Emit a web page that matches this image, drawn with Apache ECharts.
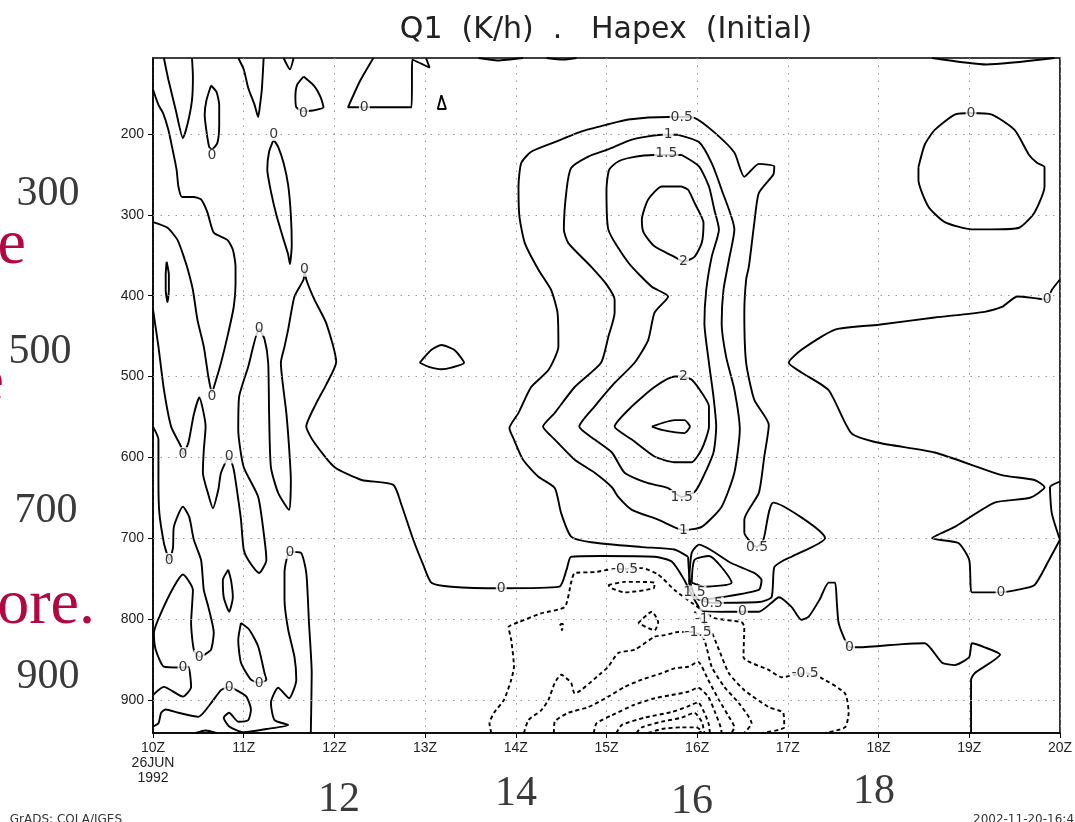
<!DOCTYPE html>
<html>
<head>
<meta charset="utf-8">
<script src="https://cdn.jsdelivr.net/npm/echarts@6/dist/echarts.min.js"></script>
<style>html,body{margin:0;padding:0;background:#fff;}#chart{width:1075px;height:822px;}</style>
</head>
<body>
<div id="chart"></div>
<script>
// ---- axes ----
const hourTicks = [10,11,12,13,14,15,16,17,18,19,20];
const pressureTicks = [200,300,400,500,600,700,800,900];
const pressureMin = 106, pressureMax = 941;

// ---- contour lines: [hour, hPa] ----
const c0TopLeftV = [[10.12,106],[10.17,133],[10.25,170],[10.33,205],[10.38,188],[10.43,158],[10.44,129],[10.43,106]];
const c0LeftUpper = [[10.00,145],[10.06,164],[10.11,174],[10.17,195],[10.21,216],[10.26,244],[10.28,265],[10.32,278],[10.45,278],[10.53,281],[10.60,297],[10.67,322],[10.82,331],[10.88,343],[10.91,364],[10.91,386],[10.89,414],[10.82,451],[10.75,483],[10.68,510],[10.65,520],[10.61,500],[10.56,463],[10.49,430],[10.44,393],[10.39,370],[10.34,352],[10.27,331],[10.16,316],[10.00,309]];
const c0ThinLoop = [[10.15,358],[10.14,374],[10.14,393],[10.16,408],[10.175,393],[10.175,374],[10.15,358]];
const c0Lens1 = [[10.64,140],[10.59,158],[10.57,176],[10.59,197],[10.62,216],[10.65,219],[10.71,211],[10.73,188],[10.73,164],[10.70,148],[10.64,140]];
const c0TopV2 = [[10.94,106],[11.00,120],[11.05,143],[11.12,164],[11.16,179],[11.18,164],[11.20,145],[11.22,106]];
const c0TopV3 = [[11.44,106],[11.51,120],[11.55,106]];
const c0Tri = [[11.66,129],[11.59,139],[11.57,154],[11.58,167],[11.66,172],[11.76,171],[11.88,167],[11.85,155],[11.78,141],[11.66,129]];
const c0Lens2 = [[11.33,207],[11.28,222],[11.26,244],[11.30,271],[11.36,300],[11.43,327],[11.49,349],[11.51,361],[11.53,337],[11.52,300],[11.49,263],[11.44,236],[11.38,216],[11.33,207]];
const c0Top12 = [[12.43,106],[12.28,135],[12.15,167],[12.52,167],[12.85,167],[12.86,108],[13.05,118],[13.01,106]];
const c0SmallTri = [[13.18,152],[13.14,169],[13.23,169],[13.18,152]];
const c0EdgeA = [[13.59,106],[13.80,109],[14.08,106]];
const c0EdgeB = [[14.34,106],[14.52,108],[14.67,106]];
const c0EdgeC = [[18.59,106],[19.19,114],[19.94,106]];
const c0Oval13 = [[12.94,483],[13.07,467],[13.18,461],[13.32,467],[13.43,483],[13.29,489],[13.18,491],[13.04,488],[12.94,483]];
const c0Main = [[10.00,417],[10.06,463],[10.12,516],[10.20,562],[10.31,587],[10.33,596],[10.39,582],[10.45,547],[10.51,526],[10.58,562],[10.56,591],[10.55,619],[10.61,646],[10.66,663],[10.72,640],[10.75,619],[10.84,599],[10.89,615],[10.94,652],[10.97,677],[11.00,714],[11.05,727],[11.17,743],[11.25,727],[11.23,702],[11.16,649],[11.00,612],[10.94,566],[10.95,525],[11.05,488],[11.17,441],[11.23,454],[11.27,483],[11.28,545],[11.30,612],[11.38,644],[11.50,665],[11.52,628],[11.50,587],[11.47,545],[11.41,483],[11.45,463],[11.49,442],[11.56,401],[11.66,380],[11.67,368],[11.69,380],[11.78,405],[11.91,434],[12.02,482],[11.91,510],[11.80,533],[11.69,562],[11.78,582],[12.00,612],[12.30,628],[12.65,634],[12.74,659],[12.87,702],[12.98,733],[13.07,755],[13.29,760],[13.84,762],[14.48,760],[14.56,739],[14.61,723],[14.94,722],[15.53,723],[15.72,729],[15.86,752],[15.94,770],[16.05,789],[16.27,791],[16.50,791],[16.68,791],[16.82,780],[16.90,773],[17.04,785],[17.15,801],[17.23,797],[17.35,776],[17.45,755],[17.52,755],[17.54,780],[17.56,805],[17.63,826],[17.68,835],[17.78,835],[18.26,831],[18.51,830],[18.70,854],[18.84,857],[19.00,847],[19.03,830],[19.17,835],[19.34,844],[19.06,867],[19.02,875],[19.02,941]];
const c0LowerLeft = [[10.00,562],[10.06,578],[10.06,628],[10.07,669],[10.12,706],[10.15,718],[10.18,727],[10.22,712],[10.23,686],[10.33,661],[10.40,674],[10.45,702],[10.53,727],[10.56,764],[10.61,785],[10.67,817],[10.64,838],[10.57,844],[10.51,847],[10.45,838],[10.42,805],[10.44,764],[10.33,745],[10.23,760],[10.09,792],[10.01,817],[10.03,838],[10.12,859],[10.28,860],[10.33,860],[10.39,859],[10.42,884],[10.33,896],[10.12,884],[10.00,894]];
const c0Bottom11 = [[10.00,933],[10.06,929],[10.09,916],[10.14,912],[10.28,916],[10.50,921],[10.64,904],[10.75,888],[10.84,884],[10.92,888],[11.03,896],[11.08,912],[11.05,925],[10.94,927],[10.84,916],[10.78,922],[10.84,933],[11.00,940],[11.25,936],[11.49,931],[11.34,925],[11.30,904],[11.38,885],[11.50,898],[11.58,875],[11.56,847],[11.49,813],[11.45,776],[11.45,743],[11.48,723],[11.51,717],[11.63,718],[11.69,743],[11.72,805],[11.75,867],[11.74,941]];
const c0Lens3 = [[10.83,739],[10.86,752],[10.88,773],[10.84,791],[10.78,773],[10.77,752],[10.83,739]];
const c0Loop11 = [[10.97,805],[11.06,813],[11.16,834],[11.23,867],[11.25,875],[11.17,879],[11.08,875],[10.97,854],[10.94,826],[10.97,805]];
const c0BottomArc = [[10.47,941],[10.58,938],[10.70,941]];
const c0TopRightLoop = [[18.44,241],[18.51,213],[18.62,195],[18.84,176],[19.02,174],[19.25,176],[19.50,195],[19.66,226],[19.75,236],[19.83,241],[19.83,265],[19.72,297],[19.55,316],[19.25,318],[19.03,318],[18.73,309],[18.55,290],[18.44,257],[18.44,241]];
const c0Right = [[20.00,380],[19.91,393],[19.86,405],[19.72,403],[19.53,401],[19.36,414],[19.17,420],[18.62,427],[18.00,436],[17.52,442],[17.15,467],[17.01,483],[17.15,495],[17.45,517],[17.70,570],[18.00,582],[18.62,594],[19.36,622],[19.72,628],[19.83,637],[19.67,650],[19.28,656],[18.84,686],[18.59,700],[18.88,706],[19.00,727],[19.03,767],[19.19,767],[19.35,767],[19.53,764],[19.72,758],[19.88,727],[20.00,702]];
const c0RightEdge = [[20.00,630],[19.89,637],[19.91,669],[20.00,702]];
const c05Outer = [[15.90,723],[15.92,752],[15.99,774],[16.16,780],[16.68,779],[16.82,773],[16.85,736],[16.96,727],[17.04,723],[17.41,700],[16.84,656],[16.73,702],[16.66,711],[16.52,693],[16.52,677],[16.68,644],[16.74,599],[16.79,560],[16.63,529],[16.54,483],[16.52,421],[16.54,380],[16.57,364],[16.63,310],[16.68,273],[16.84,250],[16.85,240],[16.68,237],[16.52,253],[16.41,223],[16.19,198],[15.97,180],[15.83,179],[15.68,179],[15.24,182],[15.02,188],[14.72,197],[14.43,210],[14.17,222],[14.06,236],[14.03,265],[14.04,302],[14.10,335],[14.25,368],[14.39,393],[14.46,421],[14.47,463],[14.36,492],[14.17,513],[14.03,545],[13.93,564],[13.98,578],[14.08,603],[14.25,624],[14.43,638],[14.50,669],[14.61,698],[14.83,705],[15.39,711],[15.75,714],[15.90,723]];
const c1 = [[15.79,201],[16.02,210],[16.16,236],[16.27,269],[16.41,318],[16.35,356],[16.29,393],[16.27,434],[16.32,476],[16.41,516],[16.47,566],[16.41,619],[16.27,661],[16.05,686],[15.85,690],[15.74,686],[15.57,677],[15.28,665],[15.13,649],[15.06,637],[14.87,619],[14.65,603],[14.43,578],[14.30,562],[14.43,545],[14.65,513],[14.94,483],[15.02,451],[15.09,421],[15.09,405],[15.00,386],[14.83,364],[14.58,335],[14.53,318],[14.56,269],[14.61,242],[14.80,228],[15.02,219],[15.28,207],[15.61,201],[15.79,201]];
const c15 = [[15.83,226],[16.02,240],[16.13,265],[16.19,294],[16.24,318],[16.16,352],[16.10,393],[16.08,434],[16.13,483],[16.18,525],[16.21,562],[16.18,594],[16.05,628],[15.97,643],[15.83,649],[15.68,638],[15.46,632],[15.20,619],[15.06,594],[14.87,578],[14.70,562],[14.87,537],[15.09,508],[15.31,483],[15.46,455],[15.53,421],[15.68,401],[15.50,389],[15.24,359],[15.02,318],[15.00,269],[15.03,244],[15.13,234],[15.28,229],[15.52,226],[15.83,226]];
const c2Upper = [[15.83,265],[15.61,265],[15.46,281],[15.39,306],[15.41,322],[15.53,339],[15.75,352],[15.85,358],[15.97,352],[16.05,335],[16.07,310],[15.97,285],[15.90,269],[15.83,265]];
const c2Lower = [[15.85,500],[15.94,504],[16.05,520],[16.13,537],[16.13,562],[16.05,590],[15.94,606],[15.75,606],[15.53,599],[15.28,578],[15.09,562],[15.28,537],[15.53,513],[15.75,500],[15.85,500]];
const c25Core = [[15.50,562],[15.75,554],[15.86,554],[15.92,562],[15.86,570],[15.61,566],[15.50,562]];
const c1Knot = [[15.91,755],[15.94,718],[16.02,708],[16.38,731],[16.63,743],[16.71,752],[16.68,764],[16.27,773],[16.02,776],[15.94,764],[15.91,755]];
const c15Knot = [[15.94,755],[15.97,727],[16.13,722],[16.38,755],[16.08,760],[15.94,755]];
const cm05 = [[13.73,941],[13.71,929],[13.76,916],[13.87,900],[13.95,875],[13.98,859],[13.95,826],[13.92,810],[14.03,804],[14.28,793],[14.54,785],[14.61,755],[14.65,743],[14.87,742],[15.02,739],[15.20,738],[15.39,737],[15.57,745],[15.75,764],[15.94,780],[16.08,791],[16.19,799],[16.49,804],[16.52,810],[16.51,847],[16.79,863],[16.93,872],[17.19,867],[17.37,873],[17.63,892],[17.67,916],[17.63,934],[17.41,941]];
const cm05Oval = [[15.02,758],[15.20,754],[15.53,755],[15.52,762],[15.20,767],[15.06,762],[15.02,758]];
const cm05Diamond = [[15.35,805],[15.50,791],[15.57,804],[15.53,814],[15.35,805]];
const cm05Tiny = [[14.49,806],[14.52,806],[14.51,814],[14.49,806]];
const cm1 = [[15.97,791],[16.16,817],[16.24,838],[16.35,867],[16.52,888],[16.79,909],[16.95,916],[16.96,934],[16.71,941]];
const cm15 = [[14.09,941],[14.14,925],[14.28,913],[14.36,900],[14.43,879],[14.50,869],[14.61,879],[14.65,892],[14.94,867],[15.02,859],[15.13,842],[15.31,838],[15.53,822],[15.64,820],[15.79,816],[15.94,816],[16.01,818],[16.08,826],[16.16,859],[16.30,884],[16.46,904],[16.60,929],[16.52,941]];
const cm2 = [[14.42,941],[14.43,927],[14.58,916],[14.80,909],[15.02,896],[15.20,884],[15.39,875],[15.61,867],[15.75,861],[15.90,859],[16.01,853],[16.12,875],[16.24,900],[16.35,921],[16.41,934],[16.38,941]];
const cm25 = [[14.86,941],[14.89,929],[15.06,919],[15.31,906],[15.53,898],[15.72,894],[15.90,890],[16.01,885],[16.12,896],[16.20,916],[16.26,934],[16.27,941]];
const cm3 = [[15.11,941],[15.17,931],[15.42,922],[15.72,915],[15.90,908],[16.01,903],[16.08,916],[16.13,931],[16.14,941]];
const cm35 = [[15.33,941],[15.39,934],[15.61,927],[15.83,922],[15.97,916],[16.05,927],[16.08,941]];
const cm4 = [[15.46,941],[15.61,936],[15.83,934],[15.99,934],[16.05,939],[16.01,941]];

const positiveOrZero = [c0TopLeftV,c0LeftUpper,c0ThinLoop,c0Lens1,c0TopV2,c0TopV3,c0Tri,c0Lens2,c0Top12,c0SmallTri,c0EdgeA,c0EdgeB,c0EdgeC,c0Oval13,c0Main,c0LowerLeft,c0Bottom11,c0Lens3,c0Loop11,c0BottomArc,c0TopRightLoop,c0Right,c0RightEdge,c05Outer,c1,c15,c2Upper,c2Lower,c25Core,c1Knot,c15Knot];
const negative = [cm05,cm05Oval,cm05Diamond,cm05Tiny,cm1,cm15,cm2,cm25,cm3,cm35,cm4];

// ---- contour labels: [hour, hPa, text] ----
const contourLabels = [
 [10.65,524,'0'],[10.65,227,'0'],[11.33,200,'0'],[11.66,174,'0'],[12.33,167,'0'],[10.33,596,'0'],[10.84,599,'0'],
 [11.17,441,'0'],[11.67,368,'0'],[10.18,727,'0'],[10.51,847,'0'],[10.33,860,'0'],[10.84,884,'0'],[11.17,879,'0'],
 [11.51,717,'0'],[13.84,762,'0'],[16.50,791,'0'],[17.68,835,'0'],[19.35,767,'0'],[19.86,405,'0'],[19.02,174,'0'],
 [15.83,179,'0.5'],[15.68,201,'1'],[15.66,224,'1.5'],[15.85,358,'2'],[15.85,500,'2'],[15.83,649,'1.5'],[15.85,690,'1'],
 [16.66,711,'0.5'],[15.20,738,'-0.5'],[15.97,767,'1.5'],[16.16,781,'0.5'],[16.05,801,'-1'],[16.01,816,'-1.5'],[17.19,867,'-0.5']
];

const chart = echarts.init(document.getElementById('chart'), null, {renderer:'canvas'});

function lineSeries(pts, dashed){
  return {type:'line', data:pts, showSymbol:false, smooth:0.2, silent:true, animation:false, z:3,
    lineStyle:{color:'#000', width:1.9, type: dashed ? [4,3] : 'solid'}};
}
const series = [];
series.push({type:'line', data:[], silent:true, animation:false, z:1,
  markLine:{silent:true, symbol:'none', animation:false, label:{show:false},
    lineStyle:{color:'#999', width:1, type:[1.5,6]},
    data: pressureTicks.map(v=>({yAxis:v}))}});
positiveOrZero.forEach(p=>series.push(lineSeries(p,false)));
negative.forEach(p=>series.push(lineSeries(p,true)));
series.push({type:'scatter', data:contourLabels.map(l=>({value:l})), symbol:'circle', symbolSize:2,
  itemStyle:{color:'rgba(255,255,255,0)'}, silent:true, animation:false, z:10,
  label:{show:true, position:'inside', formatter:(p)=>p.value[2], color:'#000', fontSize:14, fontFamily:'DejaVu Sans',
    backgroundColor:'#fff', padding:[0,1]}, labelLayout:{hideOverlap:false}});

const serif = '42px "Liberation Serif", "DejaVu Serif", serif';
const red = '#b3073f';
chart.setOption({
  backgroundColor:'#fff',
  animation:false,
  grid:{left:153, right:15, top:58, bottom:89, show:true, borderColor:'#000', borderWidth:1.5, backgroundColor:'transparent'},
  xAxis:{type:'value', min:10, max:20, interval:1,
    axisLine:{show:true, lineStyle:{color:'#000', width:1.5}},
    axisTick:{show:true, inside:false, length:5, lineStyle:{color:'#000'}},
    axisLabel:{color:'#222', fontSize:14, fontFamily:'Liberation Sans', margin:8, lineHeight:15,
      formatter:(v)=> v===10 ? '10Z\n26JUN\n1992' : v+'Z'},
    splitLine:{show:true, lineStyle:{color:'#999', width:1, type:[1.5,6]}}},
  yAxis:{type:'value', inverse:true, min:pressureMin, max:pressureMax,
    axisLine:{show:true, lineStyle:{color:'#000', width:1.5}},
    axisTick:{show:true, inside:false, length:5, customValues:pressureTicks, lineStyle:{color:'#000'}},
    axisLabel:{color:'#222', fontSize:14, fontFamily:'Liberation Sans', margin:9, customValues:pressureTicks},
    splitLine:{show:false}},
  graphic:[
    {type:'text', x:606, y:30, style:{text:'Q1  (K/h)  .   Hapex  (Initial)', fill:'#222', font:'30px "DejaVu Sans"', textAlign:'center', textVerticalAlign:'middle'}},
    {type:'text', x:48, y:194, style:{text:'300', fill:'#3a3a3a', font:serif, textAlign:'center', textVerticalAlign:'middle'}},
    {type:'text', x:40, y:352, style:{text:'500', fill:'#3a3a3a', font:serif, textAlign:'center', textVerticalAlign:'middle'}},
    {type:'text', x:46, y:511, style:{text:'700', fill:'#3a3a3a', font:serif, textAlign:'center', textVerticalAlign:'middle'}},
    {type:'text', x:48, y:677, style:{text:'900', fill:'#3a3a3a', font:serif, textAlign:'center', textVerticalAlign:'middle'}},
    {type:'text', x:339, y:800, style:{text:'12', fill:'#3a3a3a', font:serif, textAlign:'center', textVerticalAlign:'middle'}},
    {type:'text', x:516, y:794, style:{text:'14', fill:'#3a3a3a', font:serif, textAlign:'center', textVerticalAlign:'middle'}},
    {type:'text', x:692, y:802, style:{text:'16', fill:'#3a3a3a', font:serif, textAlign:'center', textVerticalAlign:'middle'}},
    {type:'text', x:874, y:792, style:{text:'18', fill:'#3a3a3a', font:serif, textAlign:'center', textVerticalAlign:'middle'}},
    {type:'text', x:26, y:246, style:{text:'e', fill:red, font:'64px "Liberation Serif", serif', textAlign:'right', textVerticalAlign:'middle'}},
    {type:'text', x:4, y:383, style:{text:'e', fill:red, font:'64px "Liberation Serif", serif', textAlign:'right', textVerticalAlign:'middle'}},
    {type:'text', x:95, y:606, style:{text:'ore.', fill:red, font:'64px "Liberation Serif", serif', textAlign:'right', textVerticalAlign:'middle'}},
    {type:'text', x:122, y:814, style:{text:'GrADS: COLA/IGES', fill:'#333', font:'12px "DejaVu Sans"', textAlign:'right', textVerticalAlign:'top'}},
    {type:'text', x:973, y:814, style:{text:'2002-11-20-16:41', fill:'#333', font:'12px "DejaVu Sans"', textAlign:'left', textVerticalAlign:'top'}}
  ],
  series: series
});
</script>
</body>
</html>
